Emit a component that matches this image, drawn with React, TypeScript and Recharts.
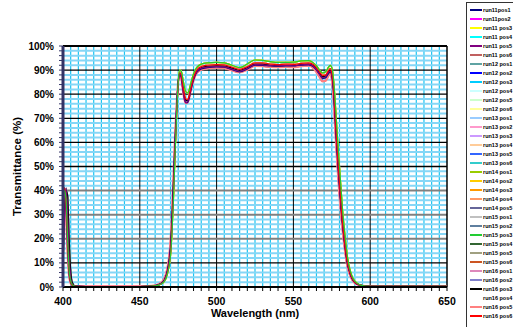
import React from 'react';
import { LineChart, Line, XAxis, YAxis, CartesianGrid, ReferenceLine } from 'recharts';

// wavelength samples (nm)
const wavelengths = [
    400, 401, 402, 403, 404, 405, 406, 408, 415, 430, 445, 455, 460, 463, 466,
    468, 469, 470, 471, 472, 473, 474, 475, 476, 477, 478, 479, 480, 481, 482, 483,
    485, 487, 490, 494, 500, 505, 510, 515, 520, 525, 530, 535, 540, 545, 550, 555, 560,
    563, 565, 567, 569, 571, 573, 574, 575, 576, 577, 578, 579, 580, 581, 582, 583, 584,
    585, 586, 588, 590, 593, 597, 605, 620, 635, 650,
];

// transmittance (%) curves, upper to lower bundle
const curveA = [
    36, 40, 36, 20, 7, 2.5, 1, 0.3, 0.2, 0.2, 0.2, 0.3, 0.5, 1, 2.3,
    5.5, 8.5, 13, 23, 38, 56, 72, 85, 90, 89.5, 86.5, 83, 81, 80.5, 81.5, 84,
    88.5, 91, 92.5, 93, 93.2, 93, 92, 91, 92.5, 94.2, 94, 93.5, 93.2, 93.2, 93.3, 93.8, 93.9,
    93, 91.8, 90, 88.8, 89.3, 91.3, 92, 91, 87, 79, 69, 59, 50, 41, 32, 25, 19,
    13.5, 9.5, 4.8, 2.4, 1, 0.4, 0.3, 0.3, 0.3, 0.3,
];
const curveB = [
    38, 41, 34, 18, 6, 2, 0.8, 0.3, 0.2, 0.2, 0.2, 0.3, 0.5, 1, 2.5,
    6, 9, 14, 25, 40, 57, 72, 84, 89, 88, 84, 80, 78, 77.8, 79, 82,
    87, 90, 91.5, 92, 92.3, 92.2, 91.2, 90.3, 91.5, 93, 93, 92.5, 92.3, 92.5, 92.4, 92.8, 93,
    92.3, 91, 89.3, 87.8, 88, 90, 90.6, 89, 84, 74, 63, 53, 44, 35, 27, 21, 15.5,
    11, 8, 4, 2, 0.9, 0.4, 0.3, 0.3, 0.3, 0.3,
];
const curveC = [
    20, 32, 40, 38, 20, 7, 2, 0.4, 0.2, 0.2, 0.2, 0.3, 0.5, 1.1, 2.8,
    6.5, 10, 16, 28, 44, 60, 74, 85, 88.5, 87.5, 83.5, 79.5, 77.5, 77.3, 78.5, 81.5,
    86.5, 89.5, 91, 91.6, 91.8, 91.7, 90.8, 89.9, 91, 92.5, 92.5, 92, 91.8, 92, 91.9, 92.3, 92.5,
    91.8, 90.5, 88.7, 87.2, 87.5, 89.5, 90, 88.3, 83, 73, 62, 52, 43, 34, 26.5, 20.5, 15,
    10.5, 7.8, 3.8, 1.9, 0.9, 0.4, 0.3, 0.3, 0.3, 0.3,
];
const curveD = [
    40, 41, 32, 16, 5, 1.8, 0.7, 0.3, 0.2, 0.2, 0.2, 0.3, 0.6, 1.2, 3,
    7, 11, 17, 29, 45, 62, 75, 85, 88.5, 87, 82.5, 78.5, 76.5, 76.5, 78, 81,
    86, 89, 90.5, 91, 91.3, 91.2, 90.2, 89.3, 90.5, 92.1, 92, 91.7, 91.6, 91.7, 91.7, 92.1, 92.2,
    91.4, 90, 88.2, 86.5, 86.8, 88.7, 89.3, 87.5, 82, 71, 60, 50, 41, 32.5, 25.5, 19.5, 14.5,
    10, 7.3, 3.6, 1.8, 0.8, 0.4, 0.3, 0.3, 0.3, 0.3,
];
const curveE = [
    8, 30, 41, 30, 12, 4, 1.2, 0.4, 0.2, 0.2, 0.2, 0.3, 0.5, 1, 2.7,
    6.5, 10, 16, 27, 43, 60, 74, 84.5, 88.8, 87.5, 82, 78, 76.5, 76.8, 78.5, 81.5,
    86.3, 89.2, 90.8, 91.2, 91.5, 91.3, 90.4, 89.5, 90.7, 92.3, 92.2, 91.9, 91.8, 91.9, 91.8, 92.2, 92.4,
    91.6, 90.2, 88.2, 86.8, 87.3, 89.2, 89.6, 87.8, 82.5, 72, 61, 51, 42, 33.5, 26, 20, 15,
    10.5, 7.6, 3.7, 1.9, 0.9, 0.4, 0.3, 0.3, 0.3, 0.3,
];
const curveF = [
    40, 39, 30, 14, 4.5, 1.5, 0.6, 0.3, 0.3, 0.3, 0.3, 0.4, 0.7, 1.4, 3.5,
    8, 12, 19, 31, 47, 63, 76, 85, 88, 86.5, 82, 78, 76.3, 76.5, 78, 81,
    85.8, 88.7, 90.2, 90.7, 91, 90.8, 89.9, 89.1, 90.2, 91.7, 91.6, 91.3, 91.2, 91.3, 91.2, 91.6, 91.8,
    90.8, 89.2, 87.2, 85.3, 85.6, 87.8, 88.5, 86, 79.5, 68, 57, 47, 38, 30, 23.5, 18, 13,
    9, 6.5, 3.2, 1.6, 0.8, 0.4, 0.4, 0.4, 0.4, 0.4,
];

const seriesNames = [
    'run11pos1', 'run11pos2', 'run11 pos3', 'run11 pos4', 'run11 pos5', 'run11 pos6',
    'run12 pos1', 'run12 pos2', 'run12 pos3', 'run12 pos4', 'run12 pos5', 'run12 pos6',
    'run13 pos1', 'run13 pos2', 'run13 pos3', 'run13 pos4', 'run13 pos5', 'run13 pos6',
    'run14 pos1', 'run14 pos2', 'run14 pos3', 'run14 pos4', 'run14 pos5',
    'run15 pos1', 'run15 pos2', 'run15 pos3', 'run15 pos4', 'run15 pos5', 'run15 pos6',
    'run16 pos1', 'run16 pos2', 'run16 pos3', 'run16 pos4', 'run16 pos5', 'run16 pos6',
];
const seriesColors = [
    '#000080', '#ff00ff', '#ffff00', '#00ffff', '#800080', '#c06060',
    '#5fa3a3', '#0000ff', '#00ccff', '#ccffff', '#ccffcc', '#ffff99',
    '#99ccff', '#ff99cc', '#cc99ff', '#ffcc99', '#3366ff', '#33cccc',
    '#99cc00', '#ffcc00', '#ff9900', '#ff9966', '#666699',
    '#c0c0c0', '#5f7f9f', '#22cc33', '#336633', '#a0a080', '#cc5522',
    '#dd88bb', '#8080cc', '#000000', '#ffffff', '#ff8080', '#ff0000',
];
const seriesCurves = [
    'd', 'f', 'b', 'c', 'e', 'b',
    'c', 'd', 'b', 'b', 'a', 'a',
    'c', 'f', 'e', 'a', 'd', 'c',
    'a', 'a', 'b', 'f', 'e',
    'c', 'd', 'a', 'e', 'c', 'b',
    'f', 'd', 'c', 'b', 'f', 'b',
];
// series drawn last so they show on top
const frontSeries = [1, 33, 31, 0, 4, 34, 25];

const xTicks = [400, 450, 500, 550, 600, 650];
const yTicks = [0, 10, 20, 30, 40, 50, 60, 70, 80, 90, 100];

const xMinor: number[] = [];
for (let w = 405; w < 650; w += 5) if (w % 50 !== 0) xMinor.push(w);
const yMinor: number[] = [];
for (let v = 2; v < 100; v += 2) if (v % 10 !== 0) yMinor.push(v);
const xAllTicks: number[] = [];
for (let w = 400; w <= 650; w += 5) xAllTicks.push(w);
const yAllTicks: number[] = [];
for (let v = 0; v <= 100; v += 2) yAllTicks.push(v);

const data = wavelengths.map((w, i) => ({
    w,
    a: curveA[i],
    b: curveB[i],
    c: curveC[i],
    d: curveD[i],
    e: curveE[i],
    f: curveF[i],
}));

const font = 'Arial, "Liberation Sans", sans-serif';

const drawOrder = seriesNames
    .map((_, i) => i)
    .filter((i) => !frontSeries.includes(i))
    .concat(frontSeries);

const App = () => {
    return (
        <div style={{ position: 'absolute', left: 0, top: 0, width: 513, height: 327, overflow: 'hidden', background: '#fff', fontFamily: font }}>
            <LineChart
                width={460}
                height={327}
                data={data}
                margin={{ top: 46, right: 13, bottom: 0, left: 0 }}
                style={{ fontFamily: font }}
            >
                <CartesianGrid horizontal={false} verticalValues={xMinor} stroke='#19c6f2' strokeWidth={1.2} />
                <CartesianGrid vertical={false} horizontalValues={yMinor} stroke='#86d6f6' strokeWidth={2} />
                <CartesianGrid horizontal={false} verticalValues={[450, 500, 550, 600]} stroke='#000' strokeWidth={1} />
                <CartesianGrid vertical={false} horizontalValues={[10, 50, 60, 70, 80, 90]} stroke='#000' strokeWidth={1.3} />
                <CartesianGrid vertical={false} horizontalValues={[20, 30, 40]} stroke='#808080' strokeWidth={2} />
                <XAxis
                    type='number'
                    dataKey='w'
                    domain={[400, 650]}
                    ticks={xAllTicks}
                    interval={0}
                    tickFormatter={(v: number) => (xTicks.includes(v) ? String(v) : '')}
                    height={40}
                    tickSize={4}
                    tickMargin={7}
                    axisLine={{ stroke: '#000', strokeWidth: 2 }}
                    tickLine={{ stroke: '#000' }}
                    tick={{ fill: '#000', fontSize: 10.5, fontWeight: 'bold', fontFamily: font }}
                    label={{ value: 'Wavelength (nm)', position: 'insideBottom', offset: 10, style: { fill: '#000', fontSize: 11, fontWeight: 'bold', fontFamily: font } }}
                />
                <YAxis
                    type='number'
                    domain={[0, 100]}
                    ticks={yAllTicks}
                    interval={0}
                    tickFormatter={(v: number) => (yTicks.includes(v) ? `${v}%` : '')}
                    width={63}
                    tickSize={4}
                    tickMargin={5}
                    axisLine={{ stroke: '#333366', strokeWidth: 3 }}
                    tickLine={{ stroke: '#333366' }}
                    tick={{ fill: '#000', fontSize: 10, fontWeight: 'bold', fontFamily: font }}
                    label={{ value: 'Transmittance (%)', angle: -90, position: 'insideLeft', offset: 17, style: { textAnchor: 'middle', fill: '#000', fontSize: 11.5, fontWeight: 'bold', fontFamily: font } }}
                />
                <ReferenceLine y={100} stroke='#000' strokeWidth={2} />
                <ReferenceLine x={650} stroke='#000' strokeWidth={1.5} />
                {drawOrder.map((i) => (
                    <Line
                        key={seriesNames[i]}
                        name={seriesNames[i]}
                        type='monotone'
                        dataKey={seriesCurves[i]}
                        stroke={seriesColors[i]}
                        strokeWidth={i === 33 ? 2.2 : 1.2}
                        dot={false}
                        isAnimationActive={false}
                    />
                ))}
            </LineChart>
            <div
                style={{
                    position: 'absolute',
                    left: 466,
                    top: 2,
                    width: 70,
                    height: 340,
                    border: '1px solid #333',
                    boxSizing: 'border-box',
                    paddingTop: 2.5,
                }}
            >
                {seriesNames.map((n, i) => (
                    <div key={n} style={{ height: 9, display: 'flex', alignItems: 'center' }}>
                        <div style={{ marginLeft: 3, width: 12, height: 2, background: seriesColors[i] }} />
                        <span style={{ marginLeft: 1, fontSize: 5.5, fontWeight: 'bold', color: '#000', whiteSpace: 'nowrap', lineHeight: '9px' }}>{n}</span>
                    </div>
                ))}
            </div>
        </div>
    );
};

export default App;
